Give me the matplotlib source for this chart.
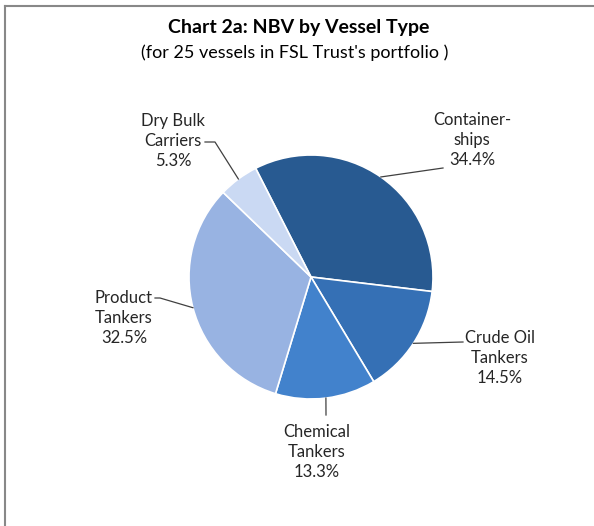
import numpy as np
import matplotlib
matplotlib.use("Agg")
import matplotlib.pyplot as plt
from matplotlib.lines import Line2D

# ---- data ----
categories = ["Container-\nships", "Crude Oil\nTankers", "Chemical\nTankers",
              "Product\nTankers", "Dry Bulk\nCarriers"]
values = [34.4, 14.5, 13.3, 32.5, 5.3]
colors = ["#285A91", "#3570B5", "#4282CC", "#98B3E2", "#CAD9F3"]

title = "Chart 2a: NBV by Vessel Type"
subtitle = "(for 25 vessels in FSL Trust's portfolio )"

# ---- layout (pixels) ----
W, H = 594, 526
CX, CY, R = 311, 277, 122

def px(x, y):
    return ((x - CX) / R, (CY - y) / R)

# label centers and leader elbow points, in pixels
label_pos = [(472, 140), (500, 358), (317, 452), (124, 318), (173, 141)]
leader_pts = [[(443, 168)], [(463, 342)], [(326, 415)],
              [(160, 298), (155, 298)], [(215, 142), (205, 142)]]

plt.rcParams['font.family'] = ['Lato', 'DejaVu Sans']
fig = plt.figure(figsize=(W / 100, H / 100), dpi=100)
ax = fig.add_axes([0, 0, 1, 1])
x0, y0 = px(0, H)
x1, y1 = px(W, 0)
ax.set_xlim(x0, x1)
ax.set_ylim(y0, y1)
ax.set_aspect('equal')
ax.axis('off')

wedges, _ = ax.pie(values, colors=colors, startangle=117, counterclock=False,
                   radius=1, center=(0, 0),
                   wedgeprops=dict(edgecolor='white', linewidth=1.2))
ax.set_xlim(x0, x1)
ax.set_ylim(y0, y1)

for w, cat, v, lp, pts in zip(wedges, categories, values, label_pos, leader_pts):
    ang = np.deg2rad((w.theta1 + w.theta2) / 2)
    sx, sy = np.cos(ang), np.sin(ang)
    xs = [sx] + [px(*p)[0] for p in pts]
    ys = [sy] + [px(*p)[1] for p in pts]
    ax.add_line(Line2D(xs, ys, color='#404040', lw=0.9))
    tx, ty = px(*lp)
    ax.text(tx, ty, f"{cat}\n{v:.1f}%", ha='center', va='center',
            fontsize=12, color='#262626', linespacing=1.33)

fig.text(299 / W, 1 - 27 / H, title, ha='center', va='center',
         fontsize=14, fontweight='bold', color='#000000')
fig.text(295 / W, 1 - 53 / H, subtitle, ha='center', va='center',
         fontsize=13, color='#000000')

# chart border (top and left visible)
fig.add_artist(Line2D([5 / W, 1], [1 - 6 / H, 1 - 6 / H], transform=fig.transFigure,
                      color='#888888', lw=1.5))
fig.add_artist(Line2D([5 / W, 5 / W], [0, 1 - 6 / H], transform=fig.transFigure,
                      color='#888888', lw=1.5))

fig.savefig("out.png", dpi=100)
